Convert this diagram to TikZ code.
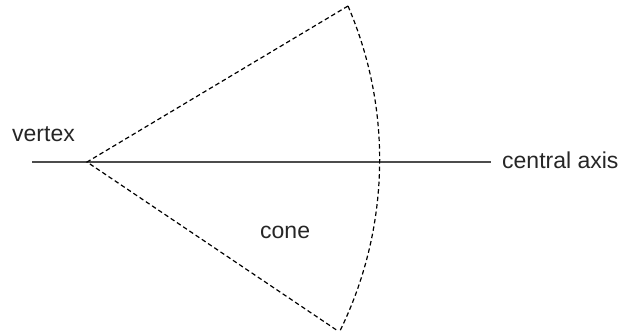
\documentclass[tikz,border=0pt]{standalone}
\usepackage{fontspec}
\setmainfont{Liberation Sans}
\begin{document}
\begin{tikzpicture}[x=1pt,y=-1pt,
  lbl/.style={font=\fontsize{23}{27}\selectfont, text=black!85, inner sep=0pt, anchor=base west},
  axisline/.style={draw=black!70, line width=1.4pt},
  conedash/.style={draw=black, line width=1.2pt, dash pattern=on 4.5pt off 3pt}]
\useasboundingbox (0,0) rectangle (623,335);
\coordinate (v) at (87,162);
\coordinate (L) at (32,162);
\coordinate (R) at (491,162);
\coordinate (top) at (348,6);
\coordinate (bot) at (338,331);
\draw[axisline] (L) -- (R);
\draw[conedash] (top) -- (v) -- (bot);
\draw[conedash] (top) arc[start angle={-atan2(154,358)}, end angle={atan2(171,348)}, radius=389];
\node[lbl] (vtx) at (12,141) {vertex};
\node[lbl] (ax) at (502,168.5) {central axis};
\node[lbl] (cone) at (260,238) {cone};
\end{tikzpicture}
\end{document}
